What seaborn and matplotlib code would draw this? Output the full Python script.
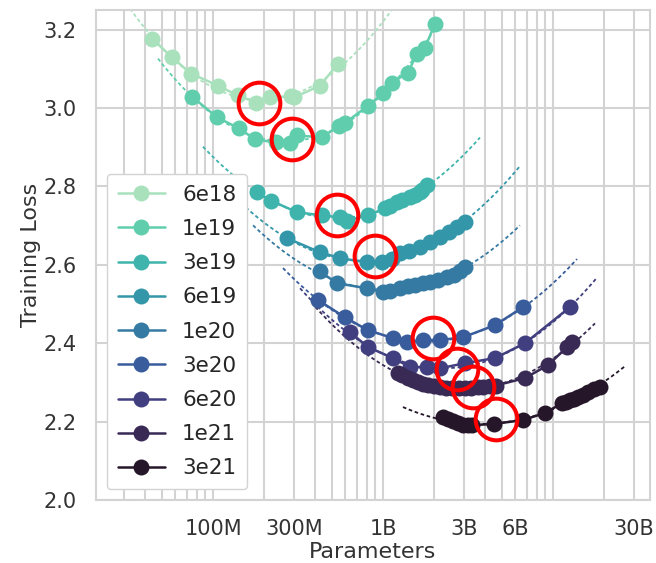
import numpy as np
import matplotlib
matplotlib.use("Agg")
import matplotlib.pyplot as plt
import seaborn as sns
from matplotlib.ticker import FixedLocator, LogLocator, NullFormatter

# ---------------- data ----------------
budgets = ["6e18", "1e19", "3e19", "6e19", "1e20", "3e20", "6e20", "1e21", "3e21"]

params_6e18 = [43.8e6, 57.4e6, 74.2e6, 107e6, 140e6, 179e6, 216e6, 288e6, 300e6, 426e6, 544e6]
loss_6e18 = [3.177, 3.129, 3.088, 3.057, 3.032, 3.014, 3.027, 3.030, 3.027, 3.057, 3.113]

params_1e19 = [75.2e6, 106e6, 142e6, 177e6, 235e6, 284e6, 312e6, 438e6, 550e6, 600e6,
               816e6, 1000e6, 1129e6, 1403e6, 1585e6, 1766e6, 2022e6]
loss_1e19 = [3.029, 2.976, 2.948, 2.920, 2.912, 2.910, 2.930, 2.925, 2.955, 2.962,
             3.006, 3.037, 3.065, 3.090, 3.139, 3.154, 3.215]

params_3e19 = [181e6, 219e6, 312e6, 438e6, 559e6, 614e6, 816e6, 1027e6, 1100e6, 1209e6,
               1300e6, 1442e6, 1550e6, 1651e6, 1700e6, 1815e6]
loss_3e19 = [2.785, 2.764, 2.734, 2.726, 2.721, 2.713, 2.726, 2.744, 2.750, 2.759,
             2.765, 2.772, 2.778, 2.785, 2.790, 2.803]

params_6e19 = [272e6, 426e6, 559e6, 805e6, 987e6, 1130e6, 1259e6, 1420e6, 1651e6, 1900e6,
               2164e6, 2450e6, 2725e6, 3037e6]
loss_6e19 = [2.668, 2.632, 2.617, 2.606, 2.606, 2.615, 2.629, 2.636, 2.645, 2.657,
             2.670, 2.684, 2.696, 2.708]

params_1e20 = [426e6, 536e6, 805e6, 1000e6, 1100e6, 1259e6, 1400e6, 1550e6, 1719e6, 1900e6,
               2100e6, 2380e6, 2600e6, 2850e6, 3037e6]
loss_1e20 = [2.583, 2.553, 2.540, 2.530, 2.533, 2.540, 2.545, 2.548, 2.553, 2.556,
             2.560, 2.568, 2.575, 2.585, 2.594]

params_3e20 = [415e6, 598e6, 816e6, 1146e6, 1384e6, 1719e6, 2164e6, 2955e6, 4560e6, 6660e6]
loss_3e20 = [2.510, 2.466, 2.433, 2.413, 2.403, 2.408, 2.408, 2.415, 2.446, 2.492]

params_6e20 = [640e6, 816e6, 1146e6, 1442e6, 1815e6, 2164e6, 3037e6, 4560e6, 6840e6, 12590e6]
loss_6e20 = [2.428, 2.390, 2.362, 2.339, 2.339, 2.336, 2.349, 2.362, 2.400, 2.492]

params_1e21 = [1225e6, 1300e6, 1403e6, 1500e6, 1607e6, 1720e6, 1839e6, 2000e6, 2164e6,
               2350e6, 2546e6, 2800e6, 3037e6, 3300e6, 3620e6, 3900e6, 4260e6, 4600e6,
               6840e6, 9350e6, 12090e6, 12940e6]
loss_1e21 = [2.324, 2.318, 2.311, 2.305, 2.301, 2.297, 2.293, 2.290, 2.288,
             2.286, 2.285, 2.285, 2.285, 2.286, 2.288, 2.289, 2.290, 2.292,
             2.311, 2.344, 2.390, 2.403]

params_3e21 = [2254e6, 2400e6, 2580e6, 2750e6, 2955e6, 3150e6, 3340e6, 4500e6, 6660e6,
               8970e6, 11300e6, 12000e6, 12590e6, 13300e6, 14030e6, 15000e6, 16070e6,
               17500e6, 18900e6]
loss_3e21 = [2.211, 2.206, 2.201, 2.196, 2.191, 2.191, 2.191, 2.194, 2.204,
             2.222, 2.247, 2.251, 2.255, 2.258, 2.262, 2.268, 2.275,
             2.282, 2.288]

all_params = [params_6e18, params_1e19, params_3e19, params_6e19, params_1e20,
              params_3e20, params_6e20, params_1e21, params_3e21]
all_loss = [loss_6e18, loss_1e19, loss_3e19, loss_6e19, loss_1e20,
            loss_3e20, loss_6e20, loss_1e21, loss_3e21]

# range over which each dashed parabola fit is drawn
fit_lo = [32.5e6, 47.5e6, 87.3e6, 102.7e6, 172e6, 258e6, 325e6, 400e6, 1310e6]
fit_hi = [1177e6, 2164e6, 3720e6, 6390e6, 6390e6, 13840e6, 18150e6, 17660e6, 26500e6]

# circled optima
opt_params = [186e6, 292e6, 536e6, 897e6, 1968e6, 2725e6, 3380e6, 4620e6]
opt_loss = [3.014, 2.920, 2.726, 2.622, 2.413, 2.334, 2.288, 2.206]

xtick_vals = [1e8, 3e8, 1e9, 3e9, 6e9, 3e10]
xtick_labels = ["100M", "300M", "1B", "3B", "6B", "30B"]
ytick_vals = [2.0, 2.2, 2.4, 2.6, 2.8, 3.0, 3.2]

# ---------------- plot ----------------
sns.set_theme(style="whitegrid")
plt.rcParams["font.family"] = ["DejaVu Sans"]

fig = plt.figure(figsize=(6.56, 5.63), dpi=100)
ax = fig.add_axes([96 / 656, 1 - 500 / 563, 554 / 656, 490 / 563])
ax.set_xscale("log")

palette = sns.color_palette("mako_r", len(budgets))

for i, b in enumerate(budgets):
    p = np.array(all_params[i])
    l = np.array(all_loss[i])
    coef = np.polyfit(np.log10(p), l, 2)
    xs = np.logspace(np.log10(fit_lo[i]), np.log10(fit_hi[i]), 200)
    ys = np.polyval(coef, np.log10(xs))
    ax.plot(xs, ys, ls=(0, (2, 1.5)), lw=1.3, color=palette[i], zorder=2)
    sns.lineplot(x=p, y=l, ax=ax, color=palette[i], marker="o", markersize=11.5,
                 markeredgewidth=0, lw=1.8, label=b, zorder=3)

ax.plot(opt_params, opt_loss, ls="none", marker="o", ms=30, mfc="none",
        mec="red", mew=2.9, zorder=4)

ax.set_xlim(2.05e7, 3.72e10)
ax.set_ylim(2.0, 3.25)

ax.xaxis.set_major_locator(FixedLocator(xtick_vals))
ax.set_xticklabels(xtick_labels)
ax.xaxis.set_minor_locator(LogLocator(base=10, subs=np.arange(1, 10), numticks=100))
ax.xaxis.set_minor_formatter(NullFormatter())
ax.set_yticks(ytick_vals)
ax.grid(which="both", color="#d3d3d3", lw=1.5)
for s in ax.spines.values():
    s.set_color("#d3d3d3")
    s.set_linewidth(1.5)

ax.tick_params(axis="both", labelsize=15, colors="#333333", pad=8)
ax.set_xlabel("Parameters", fontsize=16, color="#333333", labelpad=2)
ax.set_ylabel("Training Loss", fontsize=16, color="#333333", labelpad=1.5)

leg = ax.legend(loc="lower left", fontsize=15.5, framealpha=1, handlelength=2.2,
                labelspacing=0.66, borderpad=0.5, edgecolor="#d3d3d3")
leg.set_zorder(10)

fig.savefig("out.png", dpi=100)
